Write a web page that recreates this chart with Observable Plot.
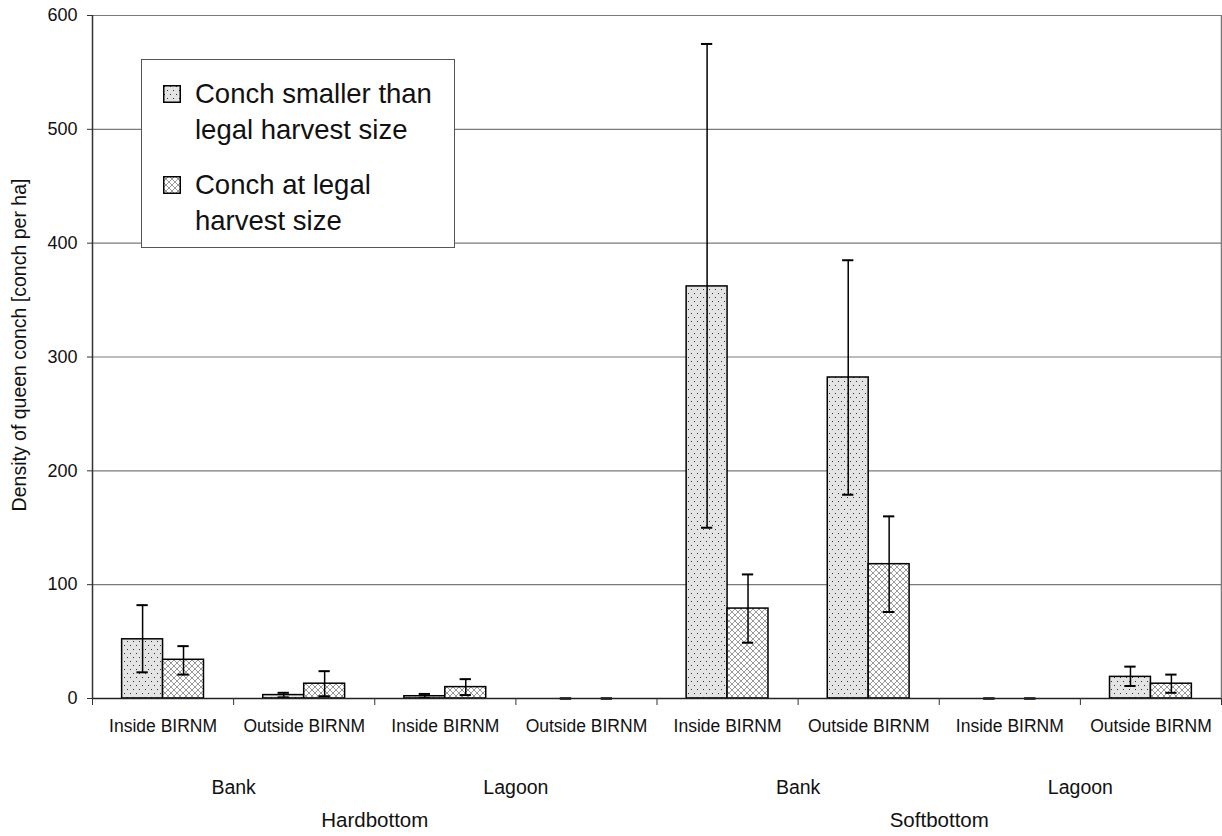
<!DOCTYPE html>
<html><head><meta charset="utf-8">
<script src="https://cdn.jsdelivr.net/npm/d3@7"></script>
<script src="https://cdn.jsdelivr.net/npm/@observablehq/plot@0.6"></script>
<style>
body{margin:0;background:#fff;font-family:"Liberation Sans",Arial,sans-serif;}
#wrap{position:relative;width:1222px;height:836px;}
#wrap > svg{position:absolute;left:0;top:0;}
#legend{position:absolute;left:141px;top:59px;width:314px;height:189px;border:1px solid #555;background:#fff;box-sizing:border-box;}
.item{position:absolute;left:0;font-size:27.5px;line-height:36px;color:#111;}
.item svg{position:absolute;left:21px;}
.item span{position:absolute;left:53px;white-space:nowrap;}
</style></head>
<body>
<svg width="0" height="0" style="position:absolute">
  <defs>
    <pattern id="dots" width="6" height="8" patternUnits="userSpaceOnUse">
      <rect width="6" height="8" fill="#e4e4e4"/>
      <rect x="1" y="1" width="1" height="1" fill="#333"/>
      <rect x="4" y="5" width="1" height="1" fill="#333"/>
    </pattern>
    <pattern id="cross" width="6" height="6" patternUnits="userSpaceOnUse">
      <rect width="6" height="6" fill="#fff"/>
      <path d="M0,0L6,6M6,0L0,6" stroke="#555" stroke-width="0.6" fill="none"/>
    </pattern>
  </defs>
</svg>
<div id="wrap">
  <div id="legend">
    <div class="item" style="top:16px;"><svg width="18" height="18" style="top:9px"><rect x="0.75" y="0.75" width="16.5" height="16.5" fill="url(#dots)" stroke="#000" stroke-width="1.5"/></svg><span>Conch smaller than<br>legal harvest size</span></div>
    <div class="item" style="top:107px;"><svg width="18" height="18" style="top:9px"><rect x="0.75" y="0.75" width="16.5" height="16.5" fill="url(#cross)" stroke="#000" stroke-width="1.5"/></svg><span>Conch at legal<br>harvest size</span></div>
  </div>
</div>
<script>
// ---- data ----
const habitat = ["Hardbottom","Hardbottom","Hardbottom","Hardbottom","Softbottom","Softbottom","Softbottom","Softbottom"];
const zone = ["Bank","Bank","Lagoon","Lagoon","Bank","Bank","Lagoon","Lagoon"];
const site = ["Inside BIRNM","Outside BIRNM","Inside BIRNM","Outside BIRNM","Inside BIRNM","Outside BIRNM","Inside BIRNM","Outside BIRNM"];
const smaller   = [52, 3, 2, 0, 362, 282, 0, 19];
const smallerLo = [23, 1, 0.5, 0, 150, 179, 0, 11];
const smallerHi = [82, 5, 4, 0, 575, 385, 0, 28];
const legal     = [34, 13, 10, 0, 79, 118, 0, 13];
const legalLo   = [21, 2, 3, 0, 49, 76, 0, 5];
const legalHi   = [46, 24, 17, 0, 109, 160, 0, 21];
const yTicks = [0, 100, 200, 300, 400, 500, 600];
const yLabel = "Density of queen conch [conch per ha]";
const seriesNames = ["Conch smaller than legal harvest size", "Conch at legal harvest size"];

// ---- build table ----
const barW = 0.29;   // bar width as a fraction of a group
const capW = 0.04;   // half-width of error-bar caps (group units)
const rows = [];
for (let i = 0; i < habitat.length; i++) {
  rows.push({i, s: 0, name: seriesNames[0], v: smaller[i], lo: smallerLo[i], hi: smallerHi[i],
    x1: i + 0.5 - barW, x2: i + 0.5, cx: i + 0.5 - barW / 2});
  rows.push({i, s: 1, name: seriesNames[1], v: legal[i], lo: legalLo[i], hi: legalHi[i],
    x1: i + 0.5, x2: i + 0.5 + barW, cx: i + 0.5 + barW / 2});
}
const groups = habitat.map((h, i) => ({i, c: i + 0.5, loc: site[i]}));
const zones = [0, 2, 4, 6].map(i => ({c: i + 1, label: zone[i]}));
const habs = [0, 4].map(i => ({c: i + 2, label: habitat[i]}));

const font = '"Liberation Sans", Arial, sans-serif';
const chart = Plot.plot({
  width: 1222, height: 836,
  marginLeft: 92, marginRight: 1, marginTop: 15, marginBottom: 138,
  style: {fontFamily: font, color: "#111", background: "transparent"},
  x: {type: "linear", domain: [0, habitat.length]},
  y: {domain: [0, 600]},
  marks: [
    Plot.ruleY(yTicks.filter(d => d > 0), {stroke: "#7a7a7a", strokeWidth: 1.2}),
    Plot.ruleX([habitat.length], {stroke: "#7a7a7a", strokeWidth: 1.5}),
    Plot.rectY(rows.filter(d => d.v > 0), {x1: "x1", x2: "x2", y1: 0, y2: "v",
      fill: d => d.s === 0 ? "url(#dots)" : "url(#cross)", stroke: "#000", strokeWidth: 1.5}),
    Plot.ruleX(rows, {x: "cx", y1: "lo", y2: "hi", stroke: "#000", strokeWidth: 1.5}),
    Plot.ruleY(rows, {y: "hi", x1: d => d.cx - capW, x2: d => d.cx + capW, stroke: "#000", strokeWidth: 2}),
    Plot.ruleY(rows, {y: "lo", x1: d => d.cx - capW, x2: d => d.cx + capW, stroke: "#000", strokeWidth: 2}),
    Plot.ruleY([0], {stroke: "#222", strokeWidth: 1.5}),
    Plot.ruleX([0], {stroke: "#333", strokeWidth: 1.5}),
    Plot.axisY({ticks: yTicks, tickSize: 5, tickPadding: 10, fontSize: 18, label: null, stroke: "#333"}),
    Plot.axisX({ticks: d3.range(habitat.length + 1), tickFormat: () => "", tickSize: 7, label: null, stroke: "#333"}),
    Plot.text(groups, {x: "c", text: "loc", frameAnchor: "bottom", dy: 33, fontSize: 17.5, fill: "#111"}),
    Plot.text(zones, {x: "c", text: "label", frameAnchor: "bottom", dy: 95, fontSize: 19.5, fill: "#111"}),
    Plot.text(habs, {x: "c", text: "label", frameAnchor: "bottom", dy: 128, fontSize: 20.5, fill: "#111"}),
    Plot.text([yLabel], {frameAnchor: "left", textAnchor: "middle", rotate: -90, dx: -73, dy: -12, fontSize: 19.5, fill: "#111"})
  ]
});
document.getElementById("wrap").prepend(chart);
</script>
</body></html>
